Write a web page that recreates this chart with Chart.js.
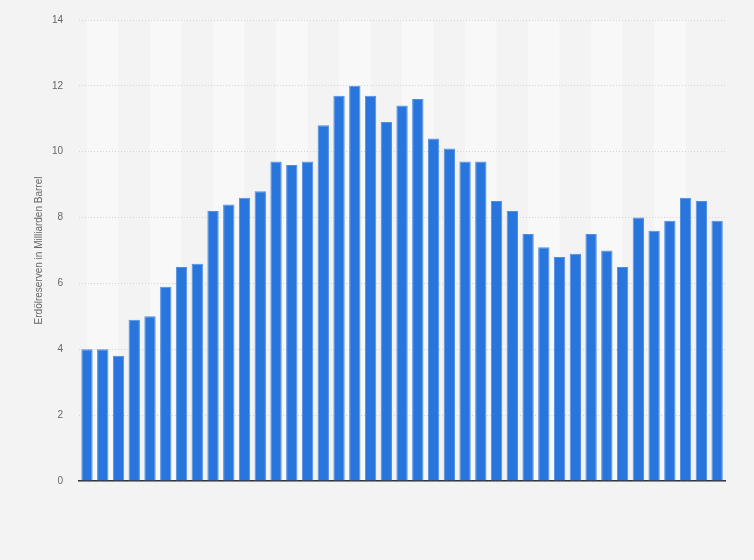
<!DOCTYPE html>
<html>
<head>
<meta charset="utf-8">
<script src="https://cdn.jsdelivr.net/npm/chart.js@4"></script>
<style>
  html, body { margin: 0; padding: 0; background: #f3f3f3; }
  #wrap { width: 754px; height: 560px; position: relative; }
</style>
</head>
<body>
<div id="wrap"><canvas id="c" width="754" height="560"></canvas></div>
<script>
const years = ["1980","1981","1982","1983","1984","1985","1986","1987","1988","1989","1990","1991","1992","1993","1994","1995","1996","1997","1998","1999","2000","2001","2002","2003","2004","2005","2006","2007","2008","2009","2010","2011","2012","2013","2014","2015","2016","2017","2018","2019","2020"];
const reserves = [4.0,4.0,3.8,4.9,5.0,5.9,6.5,6.6,8.2,8.4,8.6,8.8,9.7,9.6,9.7,10.8,11.7,12.0,11.7,10.9,11.4,11.6,10.4,10.1,9.7,9.7,8.5,8.2,7.5,7.1,6.8,6.9,7.5,7.0,6.5,8.0,7.6,7.9,8.6,8.5,7.9];
const yTicks = [0,2,4,6,8,10,12,14];
const yTitle = "Erdölreserven in Milliarden Barrel";

const bands = {
  id: 'bands',
  beforeDraw(chart) {
    const {ctx, chartArea, scales} = chart;
    const x = scales.x;
    ctx.save();
    ctx.fillStyle = '#f8f8f8';
    for (let i = 0; i + 2 < years.length; i += 4) {
      const a = x.getPixelForValue(i);
      const b = x.getPixelForValue(i + 2);
      ctx.fillRect(a, chartArea.top, b - a, chartArea.bottom - chartArea.top);
    }
    ctx.restore();
  }
};

new Chart(document.getElementById('c'), {
  type: 'bar',
  data: {
    labels: years,
    datasets: [{
      data: reserves,
      backgroundColor: '#2876dd',
      borderColor: '#4f8fe3',
      borderWidth: 1,
      barPercentage: 0.72,
      categoryPercentage: 1.0
    }]
  },
  options: {
    responsive: false,
    animation: false,
    devicePixelRatio: 1,
    layout: { padding: { left: 33, right: 29, top: 20, bottom: 71 } },
    plugins: { legend: { display: false }, tooltip: { enabled: false } },
    scales: {
      x: {
        grid: { display: false },
        ticks: { display: false },
        border: { display: true, color: '#333333', width: 1.5 }
      },
      y: {
        min: 0, max: 14,
        afterBuildTicks(axis) { axis.ticks = yTicks.map(v => ({ value: v })); },
        afterFit(axis) { axis.paddingTop = 0; axis.paddingBottom = 0; },
        grid: { color: '#d4d4d4', lineWidth: 1, drawTicks: false },
        border: { display: false, dash: [1, 2] },
        ticks: { color: '#666666', font: { family: 'Liberation Sans, Arial, sans-serif', size: 10 }, padding: 16 },
        title: { display: true, text: yTitle, color: '#666666', font: { family: 'Liberation Sans, Arial, sans-serif', size: 10 }, padding: { top: 0, bottom: -9 } }
      }
    }
  },
  plugins: [bands]
});
</script>
</body>
</html>
